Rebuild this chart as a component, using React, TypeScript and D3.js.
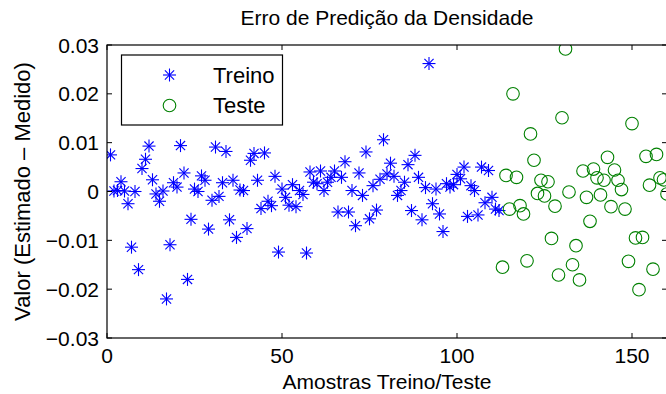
import React from "react";
import * as d3 from "d3";

const trainValues: number[] = [
  0.0075, 0.0001, 0.0002, 0.002, 0.0001, -0.0025, -0.0114, 0.0, -0.016, 0.0047,
  0.0066, 0.0093, 0.0024, -0.0005, -0.002, 0.0001, -0.022, -0.0109, 0.0018, 0.0009,
  0.0094, 0.0038, -0.018, -0.0057, 0.0005, 0.0, 0.0032, 0.0023, -0.0077, -0.0018,
  0.0091, -0.001, 0.0018, 0.0082, -0.0058, 0.0023, -0.0094, 0.0003, 0.0002, -0.0076,
  0.0064, 0.0078, 0.0023, -0.0035, 0.0079, -0.002, -0.0029, 0.0031, -0.0124, 0.0005,
  -0.0012, -0.0028, 0.0014, -0.0031, 0.0002, -0.0006, -0.0126, 0.004, 0.0019, 0.0016,
  0.0042, 0.0002, 0.0019, 0.0029, 0.0042, -0.0042, 0.0029, 0.0061, -0.0042, 0.0002,
  -0.007, 0.0038, -0.0008, 0.0081, -0.0056, 0.0012, -0.0038, 0.0025, 0.0106, 0.0036,
  0.0058, 0.0031, -0.0008, 0.0002, 0.0019, 0.0055, -0.0039, 0.0074, 0.0029, -0.0058,
  0.0008, 0.0262, -0.0025, 0.0005, -0.0046, -0.0082, 0.0016, 0.0009, 0.0014, 0.0035,
  0.0026, 0.005, -0.0051, 0.0012, 0.0002, -0.0048, 0.005, -0.0023, 0.0043, -0.0012,
  -0.0036, -0.0039,
];

const testValues: number[] = [
  -0.0155, 0.0033, -0.0036, 0.02, 0.0029, -0.0029, -0.0046, -0.0142, 0.0118, 0.0064,
  -0.0004, 0.0023, -0.0009, 0.002, -0.0096, -0.003, -0.0171, 0.0151, 0.0292, -0.0001,
  -0.015, -0.0111, -0.0181, 0.0042, -0.0012, -0.0061, 0.0046, 0.0028, -0.0007, 0.0023,
  0.007, -0.0031, 0.0044, 0.0023, 0.0004, -0.0036, -0.0143, 0.0139, -0.0095, -0.0201,
  -0.0094, 0.0072, 0.0013, -0.0159, 0.0076, 0.0028, 0.0024, -0.0005,
];

const xTicks = [0, 50, 100, 150];
const yTicks = [-0.03, -0.02, -0.01, 0, 0.01, 0.02, 0.03];
const legendLabels = ["Treino", "Teste"];

const W = 666;
const H = 394;
const FONT = "'Liberation Sans', Arial, Helvetica, sans-serif";
const BLUE = "#0000ff";
const GREEN = "#008000";

function Star({ x, y, r }: { x: number; y: number; r: number }) {
  const d = r / Math.SQRT2;
  return (
    <g stroke={BLUE} strokeWidth={1.1}>
      <line x1={x - r} y1={y} x2={x + r} y2={y} />
      <line x1={x} y1={y - r} x2={x} y2={y + r} />
      <line x1={x - d} y1={y - d} x2={x + d} y2={y + d} />
      <line x1={x - d} y1={y + d} x2={x + d} y2={y - d} />
    </g>
  );
}

export default function App() {
  const left = 107, right = 667, top = 45, bottom = 338;
  const x = d3.scaleLinear().domain([0, 160]).range([left, right]);
  const y = d3.scaleLinear().domain([-0.03, 0.03]).range([bottom, top]);
  const tickLen = 5;
  const fmt = (v: number) => (Math.abs(v) < 1e-9 ? "0" : d3.format(".2f")(v));
  const nTrain = trainValues.length;

  return (
    <div style={{ position: "absolute", left: 0, top: 0 }}>
      <svg width={W} height={H} style={{ display: "block", background: "#fff" }} fontFamily={FONT}>
        <rect x={0} y={0} width={W} height={H} fill="#fff" />
        <clipPath id="plotclip">
          <rect x={left} y={top} width={right - left} height={bottom - top} />
        </clipPath>
        <g clipPath="url(#plotclip)">
          {trainValues.map((v, i) => (
            <Star key={"t" + i} x={x(i + 1)} y={y(v)} r={6.5} />
          ))}
          {testValues.map((v, i) => (
            <circle key={"s" + i} cx={x(nTrain + 1 + i)} cy={y(v)} r={6.3} fill="none" stroke={GREEN} strokeWidth={1.1} />
          ))}
        </g>
        <rect x={left} y={top} width={right - left} height={bottom - top} fill="none" stroke="#000" strokeWidth={1.2} />
        {xTicks.map((t) => (
          <g key={"xt" + t}>
            <line x1={x(t)} x2={x(t)} y1={bottom} y2={bottom - tickLen} stroke="#000" />
            <line x1={x(t)} x2={x(t)} y1={top} y2={top + tickLen} stroke="#000" />
            <text x={x(t)} y={363} textAnchor="middle" fontSize={21} fill="#000">{t}</text>
          </g>
        ))}
        {yTicks.map((t) => (
          <g key={"yt" + t}>
            <line x1={left} x2={left + tickLen} y1={y(t)} y2={y(t)} stroke="#000" />
            <line x1={right} x2={right - tickLen} y1={y(t)} y2={y(t)} stroke="#000" />
            <text x={99} y={y(t)} dy="0.36em" textAnchor="end" fontSize={21} fill="#000">{fmt(t)}</text>
          </g>
        ))}
        <text x={(left + right) / 2} y={25} textAnchor="middle" fontSize={21} fill="#000">Erro de Predição da Densidade</text>
        <text x={(left + right) / 2} y={389} textAnchor="middle" fontSize={21} fill="#000">Amostras Treino/Teste</text>
        <text transform={`translate(30, ${(top + bottom) / 2}) rotate(-90)`} textAnchor="middle" fontSize={22} fill="#000">Valor (Estimado – Medido)</text>
        <rect x={121.5} y={55} width={161} height={70} fill="#fff" stroke="#000" strokeWidth={1.2} />
        <Star x={169.5} y={75} r={6.5} />
        <circle cx={169.5} cy={105.5} r={6.3} fill="none" stroke={GREEN} strokeWidth={1.1} />
        <text x={213} y={75} dy="0.36em" fontSize={22} fill="#000">{legendLabels[0]}</text>
        <text x={213} y={105.5} dy="0.36em" fontSize={22} fill="#000">{legendLabels[1]}</text>
      </svg>
    </div>
  );
}
